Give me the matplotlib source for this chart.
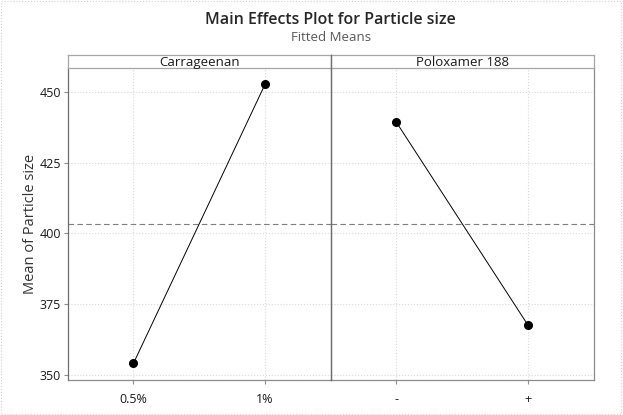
import matplotlib
matplotlib.use("Agg")
import matplotlib.pyplot as plt
from matplotlib.patches import Rectangle

plt.rcParams['font.family'] = ['Open Sans', 'DejaVu Sans']

# data
factors = ["Carrageenan", "Poloxamer 188"]
carrageenan_levels = ["0.5%", "1%"]
carrageenan_means = [354.1, 452.6]
poloxamer_levels = ["-", "+"]
poloxamer_means = [439.2, 367.6]
grand_mean = 403.4
y_ticks = [350, 375, 400, 425, 450]

panels = [(carrageenan_levels, carrageenan_means),
          (poloxamer_levels, poloxamer_means)]

fig = plt.figure(figsize=(6.23, 4.15), dpi=100)
left, right, bottom, top = 0.1087, 0.953, 0.0836, 0.8354
strip_h = 0.032
w = (right - left) / 2

grid_col = '#d9d9d9'
spine_col = '#8c8c8c'

axes = []
for i, (levels, means) in enumerate(panels):
    ax = fig.add_axes([left + i * w, bottom, w, top - bottom])
    x = list(range(len(levels)))
    ax.plot(x, means, color='black', lw=0.7, marker='o', ms=5.5, zorder=3)
    ax.axhline(grand_mean, color='#7f7f7f', lw=0.8, ls=(0, (5, 3)), zorder=2)
    ax.set_xlim(-0.5, 1.5)
    ax.set_ylim(348.1, 458.3)
    ax.set_xticks(x)
    ax.set_xticklabels(levels)
    ax.set_yticks(y_ticks)
    ax.grid(True, color=grid_col, ls=':', lw=0.8)
    ax.set_axisbelow(True)
    ax.tick_params(axis='both', colors=spine_col, labelcolor='#1a1a1a',
                   labelsize=9, length=3, width=0.8)
    ax.tick_params(axis='x', pad=6)
    ax.tick_params(axis='y', pad=2)
    for s in ax.spines.values():
        s.set_color(spine_col)
        s.set_linewidth(0.9)
    ax.spines['top'].set_visible(False)
    ax.spines['left'].set_color('#6e6e6e')
    if i > 0:
        ax.tick_params(axis='y', left=False, labelleft=False)
    else:
        ax.spines['right'].set_visible(False)
    # strip header
    sax = fig.add_axes([left + i * w, top, w, strip_h])
    sax.set_xticks([])
    sax.set_yticks([])
    for s in sax.spines.values():
        s.set_color('#a6a6a6')
        s.set_linewidth(0.9)
    sax.text(0.5, 0.45, factors[i], ha='center', va='center',
             fontsize=9.5, color='#1a1a1a', transform=sax.transAxes)
    axes.append(ax)

# divider between panels
fig.add_artist(plt.Line2D([left + w, left + w], [bottom, top + strip_h],
                          color='#6e6e6e', lw=0.9))

axes[0].set_ylabel("Mean of Particle size", fontsize=10.5, color='#333333',
                   labelpad=1)

cx = left + w
fig.text(cx, 1 - 20 / 415, "Main Effects Plot for Particle size",
         ha='center', va='center', fontsize=11.5, fontweight='semibold',
         color='#262626')
fig.text(cx, 1 - 37.5 / 415, "Fitted Means", ha='center', va='center',
         fontsize=9.5, color='#595959')

# light dotted border round the figure
fig.add_artist(Rectangle((0.002, 0.003), 0.995, 0.994, transform=fig.transFigure,
                         fill=False, ec='#d0d0d0', lw=0.8, ls=':'))

plt.savefig("out.png", dpi=100)
